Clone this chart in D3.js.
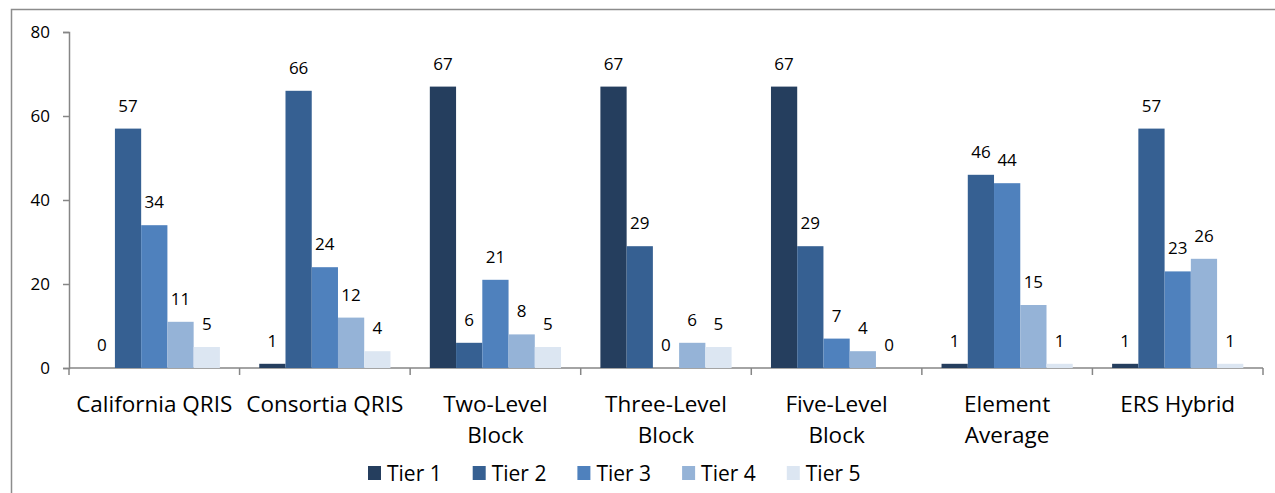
<!DOCTYPE html>
<html>
<head>
<meta charset="utf-8">
<script src="https://cdn.jsdelivr.net/npm/d3@7"></script>
<style>
  body { margin: 0; background: #fff; }
  svg { display: block; font-family: "Open Sans", "Noto Sans", sans-serif; }
</style>
</head>
<body>
<svg id="chart" width="1275" height="493"></svg>
<script>
var categories = [
  ["California QRIS"],
  ["Consortia QRIS"],
  ["Two-Level", "Block"],
  ["Three-Level", "Block"],
  ["Five-Level", "Block"],
  ["Element", "Average"],
  ["ERS Hybrid"]
];
var tiers = ["Tier 1", "Tier 2", "Tier 3", "Tier 4", "Tier 5"];
var tier1 = [0, 1, 67, 67, 67, 1, 1];
var tier2 = [57, 66, 6, 29, 29, 46, 57];
var tier3 = [34, 24, 21, 0, 7, 44, 23];
var tier4 = [11, 12, 8, 6, 4, 15, 26];
var tier5 = [5, 4, 5, 5, 0, 1, 1];
var yTicks = [0, 20, 40, 60, 80];
var colors = ["#253e5e", "#366092", "#4f81bd", "#95b3d7", "#dce6f2"];

var series = [tier1, tier2, tier3, tier4, tier5];
var svg = d3.select("#chart");

// outer frame (runs off the right and bottom edge)
svg.append("rect").
  attr("x", 11.5).attr("y", 9.5).
  attr("width", 1300).attr("height", 520).
  attr("fill", "none").attr("stroke", "#8c8c8c").attr("stroke-width", 1.5);

var plotLeft = 69, plotRight = 1263, plotTop = 32, plotBottom = 368;
var keys = categories.map(function(c, i) { return i; });

var x = d3.scaleBand().domain(keys).range([plotLeft, plotRight]).padding(0);
var xInner = d3.scaleBand().domain(tiers).range([0, x.bandwidth()]).
  paddingInner(0).paddingOuter(0.75);
var y = d3.scaleLinear().domain([0, 80]).range([plotBottom, plotTop]);

var axisColor = "#868686";

// y axis
var gY = svg.append("g").attr("transform", "translate(" + plotLeft + ",0)").
  call(d3.axisLeft(y).tickValues(yTicks).tickSize(6).tickPadding(13));
gY.select(".domain").attr("stroke", axisColor).attr("stroke-width", 1.5);
gY.selectAll(".tick line").attr("stroke", axisColor).attr("stroke-width", 1.5);
gY.selectAll(".tick text").attr("font-size", 17).attr("fill", "#000").
  attr("font-family", "'Open Sans', sans-serif");

// x axis with ticks at category edges
var edges = keys.map(function(k) { return x(k); }).concat([plotRight]);
svg.append("line").
  attr("x1", plotLeft).attr("x2", plotRight).attr("y1", plotBottom).attr("y2", plotBottom).
  attr("stroke", axisColor).attr("stroke-width", 1.5);
svg.selectAll(".xtick").data(edges).enter().append("line").
  attr("x1", function(d) { return d; }).attr("x2", function(d) { return d; }).
  attr("y1", plotBottom).attr("y2", plotBottom + 7).
  attr("stroke", axisColor).attr("stroke-width", 1.5);

// bars
var groups = svg.selectAll(".cat").data(keys).enter().append("g").
  attr("transform", function(k) { return "translate(" + x(k) + ",0)"; });

groups.each(function(k) {
  var g = d3.select(this);
  tiers.forEach(function(t, j) {
    var v = series[j][k];
    g.append("rect").
      attr("x", xInner(t)).
      attr("width", xInner.bandwidth()).
      attr("y", y(v)).
      attr("height", plotBottom - y(v)).
      attr("fill", colors[j]);
    g.append("text").
      attr("x", xInner(t) + xInner.bandwidth() / 2).
      attr("y", y(v) - 17).
      attr("text-anchor", "middle").
      attr("font-size", 17).
      text(v);
  });
  var lines = categories[k];
  lines.forEach(function(s, li) {
    g.append("text").
      attr("x", x.bandwidth() / 2).
      attr("y", 412 + li * 31).
      attr("text-anchor", "middle").
      attr("font-size", 22.5).
      text(s);
  });
});

// legend
var legend = svg.selectAll(".leg").data(tiers).enter().append("g").
  attr("transform", function(d, i) { return "translate(" + (368 + i * 104.7) + ",466)"; });
legend.append("rect").attr("width", 13).attr("height", 14).
  attr("fill", function(d, i) { return colors[i]; });
legend.append("text").attr("x", 19).attr("y", 15).
  attr("font-size", 21).text(function(d) { return d; });
</script>
</body>
</html>
